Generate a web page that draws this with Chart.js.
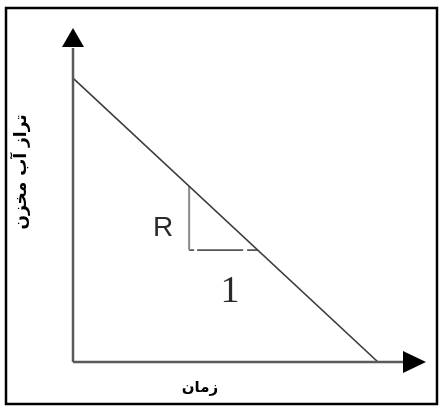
<!DOCTYPE html>
<html lang="fa">
<head>
    <meta charset="UTF-8">
    <title>تراز آب مخزن</title>
    <script src="https://cdn.jsdelivr.net/npm/chart.js"></script>
    <style>
        html, body { margin: 0; padding: 0; background: #fff; }
        .chart-container { position: relative; width: 440px; height: 407px; }
    </style>
</head>
<body>
    <div class="chart-container">
        <canvas id="levelChart"></canvas>
    </div>

    <script>
        // reservoir level falling linearly with time (axis units, no ticks shown)
        const levelX = [0, 8.64];
        const levelY = [8.5, 0];
        // slope triangle: vertical leg R and horizontal leg 1
        const riseX = [3.29, 3.29];
        const riseY = [5.26, 3.35];
        const runX = [3.29, 5.24];
        const runY = [3.35, 3.35];
        const xTitle = 'زمان';
        const yTitle = 'تراز آب مخزن';

        const toPoints = (xs, ys) => xs.map((x, i) => ({ x: x, y: ys[i] }));

        // axes with arrow heads, frame, titles and the R / 1 labels
        const diagramPlugin = {
            id: 'diagram',
            afterDatasetsDraw(chart) {
                const ctx = chart.ctx;
                const xs = chart.scales.x, ys = chart.scales.y;
                const x0 = xs.getPixelForValue(0), y0 = ys.getPixelForValue(0);
                const xEnd = xs.getPixelForValue(10), yEnd = ys.getPixelForValue(10);
                ctx.save();

                ctx.strokeStyle = '#5a5a5a';
                ctx.lineWidth = 2.5;
                ctx.beginPath();
                ctx.moveTo(x0, y0);
                ctx.lineTo(xEnd - 20, y0);
                ctx.moveTo(x0, y0);
                ctx.lineTo(x0, yEnd + 20);
                ctx.stroke();

                ctx.fillStyle = '#000';
                ctx.beginPath();
                ctx.moveTo(xEnd, y0);
                ctx.lineTo(xEnd - 23, y0 - 11);
                ctx.lineTo(xEnd - 23, y0 + 11);
                ctx.closePath();
                ctx.fill();
                ctx.beginPath();
                ctx.moveTo(x0, yEnd);
                ctx.lineTo(x0 - 11, yEnd + 19);
                ctx.lineTo(x0 + 11, yEnd + 19);
                ctx.closePath();
                ctx.fill();

                ctx.strokeStyle = '#000';
                ctx.lineWidth = 2.5;
                ctx.strokeRect(6, 8, 431, 396);

                ctx.fillStyle = '#2a2a2a';
                ctx.textAlign = 'center';
                ctx.textBaseline = 'middle';
                ctx.font = '28px "Liberation Sans", Arial, sans-serif';
                ctx.fillText('R', xs.getPixelForValue(2.55), ys.getPixelForValue(4.0));
                ctx.font = '38px "Liberation Serif", "Times New Roman", serif';
                ctx.fillText('1', xs.getPixelForValue(4.45), ys.getPixelForValue(2.1));

                ctx.fillStyle = '#000';
                ctx.font = 'bold 15px "DejaVu Sans", sans-serif';
                ctx.fillText(xTitle, 200, 388);
                ctx.translate(22, 172);
                ctx.rotate(-Math.PI / 2);
                ctx.font = 'bold 17px "DejaVu Sans", sans-serif';
                ctx.fillText(yTitle, 0, 0);
                ctx.restore();
            }
        };

        new Chart(document.getElementById('levelChart'), {
            type: 'scatter',
            data: {
                datasets: [{
                    data: toPoints(levelX, levelY),
                    showLine: true,
                    borderColor: '#3c3c3c',
                    borderWidth: 1.6,
                    pointRadius: 0
                }, {
                    data: toPoints(riseX, riseY),
                    showLine: true,
                    borderColor: '#8a8a8a',
                    borderWidth: 2,
                    pointRadius: 0
                }, {
                    data: toPoints(runX, runY),
                    showLine: true,
                    borderColor: '#555',
                    borderWidth: 1.6,
                    borderDash: [5, 3, 46, 4, 20, 0],
                    pointRadius: 0
                }]
            },
            options: {
                responsive: true,
                maintainAspectRatio: false,
                animation: false,
                layout: { padding: { left: 73, top: 28, right: 14, bottom: 45 } },
                plugins: { legend: { display: false }, tooltip: { enabled: false } },
                scales: {
                    x: { type: 'linear', display: false, min: 0, max: 10 },
                    y: { type: 'linear', display: false, min: 0, max: 10 }
                }
            },
            plugins: [diagramPlugin]
        });
    </script>
</body>
</html>
